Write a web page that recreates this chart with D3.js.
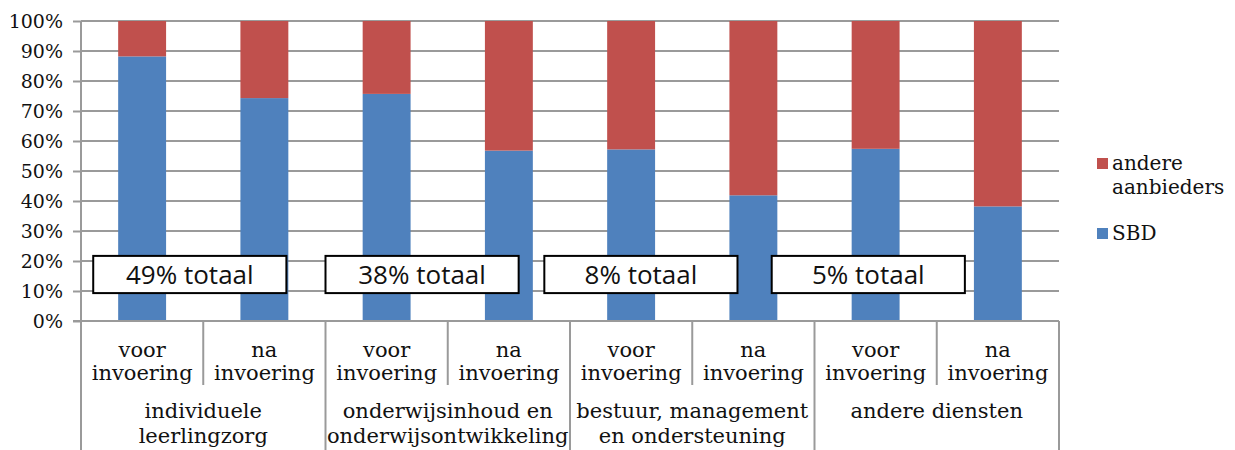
<!DOCTYPE html>
<html>
<head>
<meta charset="utf-8">
<script src="https://cdn.jsdelivr.net/npm/d3@7"></script>
<style>
  body { margin: 0; background: #fff; }
</style>
</head>
<body>
<div id="chart"></div>
<script>
'use strict';

// categories
const groups = [
	["individuele", "leerlingzorg"],
	["onderwijsinhoud en", "onderwijsontwikkeling"],
	["bestuur, management", "en ondersteuning"],
	["andere diensten"]
];
const phases = [["voor", "invoering"], ["na", "invoering"]];

// series values (%), bars in order group x phase
const sbd = [88.2, 74.3, 75.7, 56.8, 57.2, 41.9, 57.4, 38.2];
const andere = [11.8, 25.7, 24.3, 43.2, 42.8, 58.1, 42.6, 61.8];

const seriesNames = ["SBD", "andere aanbieders"];
const yTicks = [0, 10, 20, 30, 40, 50, 60, 70, 80, 90, 100];

// annotation boxes: label, start (in bar slots)
const totals = ["49% totaal", "38% totaal", "8% totaal", "5% totaal"];
const totalStart = [0.1, 2.0, 3.79, 5.65];

const width = 1235, height = 450;
const margin = { top: 21, right: 176, bottom: 129, left: 81 };
const innerW = width - margin.left - margin.right;
const innerH = height - margin.top - margin.bottom;

const blue = "#4f81bd", red = "#c0504d", grid = "#9a9a9a";

const bars = sbd.map((v, i) => ({ i: i, sbd: v, andere: andere[i] }));

const svg = d3.select("#chart")
	.append("svg")
		.attr("width", width)
		.attr("height", height);

const g = svg.append("g")
	.attr("transform", `translate(${margin.left},${margin.top})`);

const x = d3.scaleBand()
	.domain(d3.range(bars.length))
	.range([0, innerW])
	.paddingInner(0.608)
	.paddingOuter(0.304);

const slot = d3.scaleLinear()
	.domain([0, bars.length])
	.range([0, innerW]);

const y = d3.scaleLinear()
	.domain([0, 100])
	.range([innerH, 0]);

// gridlines
g.append("g")
	.selectAll("line")
	.data(yTicks.filter(d => d > 0))
	.join("line")
		.attr("x1", 0)
		.attr("x2", innerW)
		.attr("y1", d => y(d))
		.attr("y2", d => y(d))
		.attr("stroke", grid)
		.attr("stroke-width", 2);

// y axis
const yAxis = g.append("g")
	.call(d3.axisLeft(y)
		.tickValues(yTicks)
		.tickSize(8)
		.tickPadding(10)
		.tickFormat(d => d + "%"));
yAxis.select(".domain").attr("stroke", grid).attr("stroke-width", 2)
	.attr("d", `M0,${innerH}V0`);
yAxis.selectAll(".tick line").attr("stroke", grid).attr("stroke-width", 2);
yAxis.selectAll(".tick text")
	.attr("font-family", "DejaVu Serif")
	.attr("font-size", 19)
	.attr("fill", "#111");

// stacked bars
const stack = d3.stack().keys(["sbd", "andere"])(bars);
const colors = [blue, red];

g.append("g")
	.selectAll("g")
	.data(stack)
	.join("g")
		.attr("fill", (d, k) => colors[k])
	.selectAll("rect")
	.data(d => d)
	.join("rect")
		.attr("x", d => x(d.data.i))
		.attr("width", x.bandwidth())
		.attr("y", d => y(d[1]))
		.attr("height", d => y(d[0]) - y(d[1]));

// x axis baseline
g.append("line")
	.attr("x1", -8).attr("x2", innerW)
	.attr("y1", innerH).attr("y2", innerH)
	.attr("stroke", grid).attr("stroke-width", 2);

// category separators
const sep = g.append("g").attr("stroke", grid).attr("stroke-width", 2);
sep.selectAll("line.inner")
	.data(d3.range(1, bars.length, 2))
	.join("line")
		.attr("class", "inner")
		.attr("x1", d => slot(d)).attr("x2", d => slot(d))
		.attr("y1", innerH).attr("y2", innerH + 64);
sep.selectAll("line.outer")
	.data(d3.range(0, bars.length + 1, 2))
	.join("line")
		.attr("class", "outer")
		.attr("x1", d => slot(d)).attr("x2", d => slot(d))
		.attr("y1", innerH).attr("y2", height);

// phase labels
const phaseLab = g.append("g")
	.attr("font-family", "DejaVu Serif")
	.attr("font-size", 21)
	.attr("fill", "#111")
	.attr("text-anchor", "middle");
bars.forEach((b, i) => {
	const lines = phases[i % 2];
	const t = phaseLab.append("text")
		.attr("x", x(i) + x.bandwidth() / 2)
		.attr("y", innerH + 36);
	lines.forEach((s, k) => {
		t.append("tspan")
			.attr("x", x(i) + x.bandwidth() / 2)
			.attr("dy", k === 0 ? 0 : 23)
			.text(s);
	});
});

// group labels
const groupLab = g.append("g")
	.attr("font-family", "DejaVu Serif")
	.attr("font-size", 21)
	.attr("fill", "#111")
	.attr("text-anchor", "middle");
groups.forEach((lines, gi) => {
	const cx = slot(gi * 2 + 1);
	const t = groupLab.append("text")
		.attr("x", cx)
		.attr("y", innerH + 97);
	lines.forEach((s, k) => {
		t.append("tspan")
			.attr("x", cx)
			.attr("dy", k === 0 ? 0 : 25)
			.text(s);
	});
});

// total annotation boxes
const boxes = g.append("g");
totals.forEach((label, k) => {
	const x0 = slot(totalStart[k]);
	const x1 = slot(totalStart[k] + 1.58);
	boxes.append("rect")
		.attr("x", x0)
		.attr("y", y(21.7))
		.attr("width", x1 - x0)
		.attr("height", y(9.3) - y(21.7))
		.attr("fill", "#fff")
		.attr("stroke", "#000")
		.attr("stroke-width", 2);
	boxes.append("text")
		.attr("x", (x0 + x1) / 2)
		.attr("y", y(15.3))
		.attr("dy", "0.35em")
		.attr("text-anchor", "middle")
		.attr("font-family", "Open Sans")
		.attr("font-size", 26)
		.attr("fill", "#111")
		.text(label);
});

// legend
const legend = svg.append("g")
	.attr("transform", "translate(1097,0)")
	.attr("font-family", "DejaVu Serif")
	.attr("font-size", 20)
	.attr("fill", "#111");
const legendItems = [
	{ color: red, lines: ["andere", "aanbieders"], y: 158 },
	{ color: blue, lines: ["SBD"], y: 228 }
];
legendItems.forEach(it => {
	legend.append("rect")
		.attr("x", 0).attr("y", it.y)
		.attr("width", 11).attr("height", 11)
		.attr("fill", it.color);
	const t = legend.append("text").attr("x", 15).attr("y", it.y + 12);
	it.lines.forEach((s, k) => {
		t.append("tspan").attr("x", 15).attr("dy", k === 0 ? 0 : 24).text(s);
	});
});
</script>
</body>
</html>
